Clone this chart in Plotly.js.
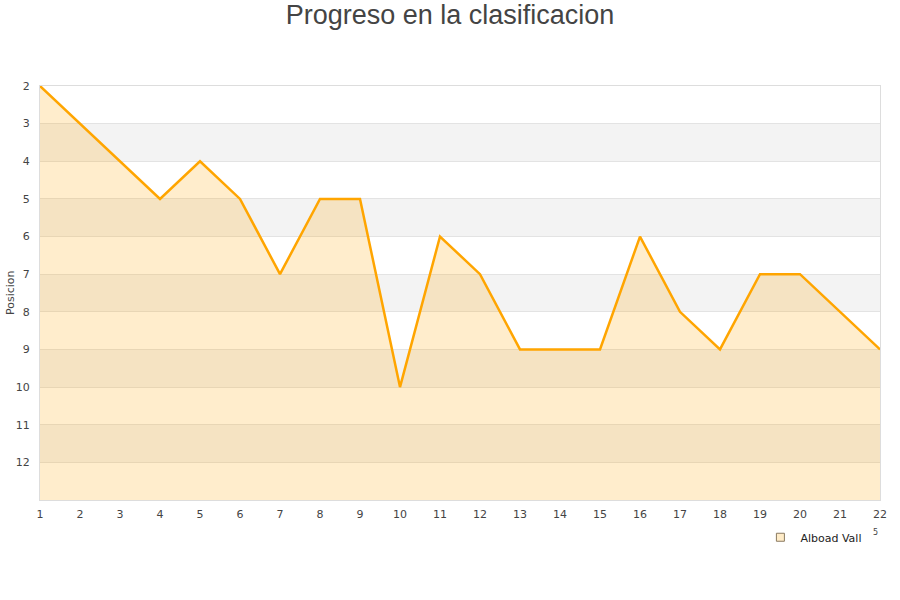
<!DOCTYPE html>
<html>
<head>
<meta charset="utf-8">
<script src="https://cdn.plot.ly/plotly-3.0.1.min.js"></script>
<style>html,body{margin:0;padding:0;background:#fff}#chart{width:900px;height:600px}</style>
</head>
<body>
<div id="chart"></div>
<script>
const jornadas = [1,2,3,4,5,6,7,8,9,10,11,12,13,14,15,16,17,18,19,20,21,22];
const posicion = [2,3,4,5,4,5,7,5,5,10,6,7,9,9,9,6,8,9,7,7,8,9];
const baseline = jornadas.map(() => 13);
const teamName = 'Alboad Vall';
const yTitle = 'Posicion';
const yTicks = [2,3,4,5,6,7,8,9,10,11,12];
const bandStarts = [3,5,7,9,11];

const shapes = bandStarts.map(b => ({
  type: 'rect', xref: 'paper', yref: 'y', x0: 0, x1: 1, y0: b, y1: b + 1,
  fillcolor: '#f3f3f3', line: {width: 0}, layer: 'below'
}));

const traces = [
  {x: jornadas, y: baseline, mode: 'lines', line: {width: 0}, showlegend: false, hoverinfo: 'skip'},
  {x: jornadas, y: posicion, mode: 'lines', fill: 'tonexty', fillcolor: 'rgba(255,165,0,0.2)',
   line: {color: '#ffa500', width: 2.5}, showlegend: false, name: teamName},
  {x: [null], y: [null], mode: 'markers', name: teamName,
   marker: {symbol: 'square', size: 8, color: '#ffecc8', line: {color: '#8a7a60', width: 1}}}
];

const layout = {
  width: 900, height: 600,
  margin: {l: 40, r: 20, t: 86, b: 100},
  paper_bgcolor: '#fff', plot_bgcolor: 'rgba(0,0,0,0)',
  title: {text: 'Progreso en la clasificacion', x: 0.5, xanchor: 'center', y: 0.975, yanchor: 'middle',
          font: {family: 'Liberation Sans, Arial, sans-serif', size: 27, color: '#444'}},
  font: {family: 'DejaVu Sans, sans-serif', size: 11, color: '#444'},
  xaxis: {range: [1, 22], tickmode: 'array', tickvals: jornadas, showgrid: false, zeroline: false,
          showline: true, linecolor: '#ddd', linewidth: 1, mirror: true, ticks: '', fixedrange: true,
          ticklabelstandoff: 4, tickfont: {size: 11, color: '#444'}},
  yaxis: {range: [13, 2], tickmode: 'array', tickvals: yTicks, showgrid: true, gridcolor: '#e3e3e3',
          zeroline: false, showline: true, linecolor: '#ddd', linewidth: 1, mirror: true, ticks: '',
          ticklabelstandoff: 7, tickfont: {size: 11, color: '#444'}},
  shapes: shapes,
  showlegend: true,
  legend: {orientation: 'h', x: 0.985, xanchor: 'right', y: -0.09, yanchor: 'middle',
           font: {size: 11, color: '#222'}, bgcolor: 'rgba(0,0,0,0)'},
  annotations: [
    {xref: 'paper', yref: 'paper', x: 1.0, y: -0.078, text: '5', showarrow: false,
     font: {size: 8, color: '#444'}, xanchor: 'right', yanchor: 'middle'},
    {xref: 'paper', yref: 'paper', x: -0.0357, y: 0.5, text: yTitle, textangle: -90, showarrow: false,
     font: {size: 11, color: '#444'}, xanchor: 'center', yanchor: 'middle'}
  ]
};

Plotly.newPlot('chart', traces, layout, {displayModeBar: false, staticPlot: true});
</script>
</body>
</html>
